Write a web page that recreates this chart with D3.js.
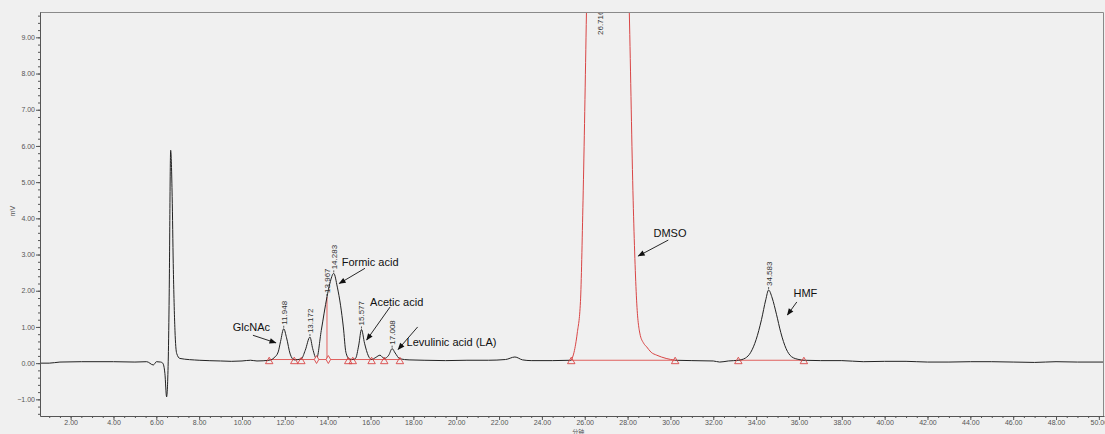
<!DOCTYPE html>
<html>
<head>
<meta charset="utf-8">
<script src="https://cdn.jsdelivr.net/npm/d3@7"></script>
<style>
  html, body { margin: 0; padding: 0; background: #f0f0f0; }
  svg { display: block; font-family: "Liberation Sans", Arial, sans-serif; }
  .axis text { fill: #555; font-size: 7px; }
  .axis path, .axis line { stroke: #555; }
  .peak-label { font-size: 8px; fill: #333; }
  .annot { font-size: 11px; fill: #111; }
</style>
</head>
<body>
<svg id="chart"></svg>
<script>
// ---- data (time in min, signal in mV) ----
const traceBefore = [
  [0.6, 0.0], [1.0, 0.0], [1.5, 0.03], [2.5, 0.04], [4.0, 0.04], [5.0, 0.03],
  [5.55, 0.04], [5.86, -0.05], [6.01, 0.04], [6.2, 0.03], [6.3, 0.0],
  [6.4, -0.28], [6.48, -0.93], [6.56, 0.17], [6.6, 1.83], [6.67, 5.88],
  [6.74, 4.6], [6.79, 2.75], [6.87, 0.91], [6.95, 0.27], [7.1, 0.13],
  [8.0, 0.08], [9.0, 0.06], [9.5, 0.05], [10.0, 0.06], [10.4, 0.08],
  [10.7, 0.06], [11.27, 0.08], [11.5, 0.15], [11.69, 0.31], [11.8, 0.6],
  [11.948, 0.95], [12.08, 0.7], [12.25, 0.25], [12.44, 0.09], [12.77, 0.12],
  [12.95, 0.35], [13.172, 0.72], [13.3, 0.4], [13.48, 0.12], [13.7, 0.9],
  [13.967, 1.83], [14.1, 2.2], [14.283, 2.48], [14.45, 2.1], [14.6, 1.6],
  [14.73, 1.0], [14.85, 0.3], [15.0, 0.12], [15.17, 0.1], [15.3, 0.13],
  [15.45, 0.5], [15.577, 0.93], [15.72, 0.55], [15.9, 0.2], [16.05, 0.1],
  [16.25, 0.16], [16.44, 0.22], [16.64, 0.13], [16.85, 0.22], [17.008, 0.4],
  [17.15, 0.28], [17.37, 0.12], [17.8, 0.09], [18.5, 0.08], [19.5, 0.07],
  [20.5, 0.08], [21.5, 0.08], [22.3, 0.1], [22.74, 0.17], [23.1, 0.09],
  [23.5, 0.07], [24.5, 0.07], [25.37, 0.08]
];

const dmsoTrace = [
  [25.37, 0.08], [25.5, 0.3], [25.65, 0.83], [25.8, 1.7], [25.92, 4.5],
  [26.08, 9.7], [26.25, 16], [26.716, 22], [27.5, 20], [27.9, 14],
  [28.08, 9.7], [28.26, 4.5], [28.42, 1.74], [28.57, 0.83], [28.75, 0.55],
  [28.89, 0.45], [29.1, 0.3], [29.36, 0.22], [29.8, 0.13], [30.22, 0.08]
];

const traceAfter = [
  [30.22, 0.08], [31.0, 0.07], [32.0, 0.06], [32.3, 0.03], [32.7, 0.06],
  [33.17, 0.08], [33.5, 0.14], [33.75, 0.3], [34.0, 0.65], [34.25, 1.2],
  [34.45, 1.75], [34.583, 2.02], [34.75, 1.8], [34.95, 1.35], [35.15, 0.85],
  [35.4, 0.4], [35.65, 0.18], [36.0, 0.1], [36.23, 0.08], [37.0, 0.07],
  [38.0, 0.07], [39.0, 0.04], [40.0, 0.05], [41.0, 0.05], [42.0, 0.03],
  [43.0, 0.03], [44.0, 0.04], [45.0, 0.04], [46.0, 0.03], [47.0, 0.02],
  [48.0, 0.04], [49.0, 0.03], [50.3, 0.03]
];

// retention time labels
const peakTimes = [11.948, 13.172, 13.967, 14.283, 15.577, 17.008, 26.716, 34.583];
const peakHeights = [0.95, 0.72, 1.83, 2.48, 0.93, 0.40, 22, 2.02];

// integration baselines and markers
const baselineSegments = [
  [[11.27, 0.1], [17.37, 0.1]],
  [[25.37, 0.08], [30.22, 0.08]],
  [[33.17, 0.08], [36.23, 0.08]]
];
const dropLine = [[13.967, 0.1], [13.967, 1.83]];
const triangleTimes = [11.27, 12.44, 12.77, 14.96, 15.17, 16.05, 16.64, 17.37, 25.37, 30.22, 33.17, 36.23];
const diamondTimes = [13.48, 14.03];

// compound annotations: text anchor and arrow start/end (data coordinates)
const annotTexts = ['GlcNAc', 'Formic acid', 'Acetic acid', 'Levulinic acid (LA)', 'DMSO', 'HMF'];
const annotTextAt = [[10.44, 1.0], [15.98, 2.79], [17.22, 1.69], [19.78, 0.57], [29.98, 3.58], [36.3, 1.93]];
const annotFrom = [[10.51, 0.77], [15.74, 2.62], [16.91, 1.55], [18.2, 1.0], [29.9, 3.4], [35.9, 1.69]];
const annotTo = [[11.58, 0.56], [14.54, 2.2], [15.82, 0.64], [17.29, 0.38], [28.5, 2.96], [35.46, 1.33]];

// ticks
const xMajorTicks = d3.range(2, 51, 2);
const xMinorTicks = d3.range(1, 50.01, 0.5);
const yMajorTicks = d3.range(-1, 10, 1);
const yMinorTicks = d3.range(-1.4, 9.61, 0.2);

class Chromatogram {
  constructor(_config) {
    this.config = {
      parentElement: _config.parentElement,
      containerWidth: 1105,
      containerHeight: 434,
      margin: { top: 12, right: 1, bottom: 18, left: 40 }
    };
    this.initVis();
  }

  initVis() {
    let vis = this;
    const m = vis.config.margin;
    vis.width = vis.config.containerWidth - m.left - m.right;
    vis.height = vis.config.containerHeight - m.top - m.bottom;

    vis.svg = d3.select(vis.config.parentElement)
      .attr('width', vis.config.containerWidth)
      .attr('height', vis.config.containerHeight);

    vis.chartArea = vis.svg.append('g')
      .attr('transform', `translate(${m.left},${m.top})`);

    vis.svg.append('defs').append('clipPath')
      .attr('id', 'plot-clip')
      .append('rect')
      .attr('width', vis.width)
      .attr('height', vis.height);

    vis.svg.select('defs').append('marker')
      .attr('id', 'arrow-head')
      .attr('viewBox', '0 0 10 10')
      .attr('refX', 9)
      .attr('refY', 5)
      .attr('markerUnits', 'userSpaceOnUse')
      .attr('markerWidth', 8)
      .attr('markerHeight', 7)
      .attr('orient', 'auto')
      .append('path')
      .attr('d', 'M0,1 L10,5 L0,9 Z')
      .attr('fill', '#111');

    vis.xScale = d3.scaleLinear().domain([0.57, 50.24]).range([0, vis.width]);
    vis.yScale = d3.scaleLinear().domain([-1.46, 9.70]).range([vis.height, 0]);

    vis.chart = vis.chartArea.append('g').attr('clip-path', 'url(#plot-clip)');
  }

  renderVis() {
    let vis = this;
    const x = vis.xScale, y = vis.yScale;

    // frame on top and right
    vis.chartArea.append('path')
      .attr('d', `M0,0.5 H${vis.width - 0.5} V${vis.height}`)
      .attr('fill', 'none')
      .attr('stroke', '#8a8a8a');

    // minor ticks
    vis.chartArea.append('g')
      .attr('class', 'axis')
      .attr('transform', `translate(0,${vis.height})`)
      .call(d3.axisBottom(x).tickValues(xMinorTicks).tickSize(2).tickFormat(''))
      .call(g => g.select('.domain').remove());
    vis.chartArea.append('g')
      .attr('class', 'axis')
      .call(d3.axisLeft(y).tickValues(yMinorTicks).tickSize(2).tickFormat(''))
      .call(g => g.select('.domain').remove());

    // major axes
    vis.chartArea.append('g')
      .attr('class', 'axis x-axis')
      .attr('transform', `translate(0,${vis.height})`)
      .call(d3.axisBottom(x).tickValues(xMajorTicks).tickSize(4).tickSizeOuter(0)
        .tickPadding(0).tickFormat(d3.format('.2f')));
    vis.chartArea.append('g')
      .attr('class', 'axis y-axis')
      .call(d3.axisLeft(y).tickValues(yMajorTicks).tickSize(4).tickSizeOuter(0)
        .tickPadding(1).tickFormat(d3.format('.2f')));

    // axis titles
    vis.svg.append('text')
      .attr('transform', `translate(15,${vis.config.margin.top + y(4.2)}) rotate(-90)`)
      .attr('text-anchor', 'middle')
      .style('font-size', '7px')
      .attr('fill', '#555')
      .text('mV');
    vis.svg.append('text')
      .attr('x', vis.config.margin.left + x(25.7))
      .attr('y', 433.5)
      .attr('text-anchor', 'middle')
      .style('font-size', '6px')
      .style('font-family', '"Noto Sans CJK SC", sans-serif')
      .attr('fill', '#555')
      .text('分钟');

    const line = d3.line()
      .x(d => x(d[0]))
      .y(d => y(d[1]))
      .curve(d3.curveMonotoneX);

    // integration baselines
    vis.chart.selectAll('.baseline')
      .data(baselineSegments.concat([dropLine]))
      .join('path')
      .attr('class', 'baseline')
      .attr('d', d3.line().x(d => x(d[0])).y(d => y(d[1])))
      .attr('fill', 'none')
      .attr('stroke', '#e0605e')
      .attr('stroke-width', 1);

    // chromatogram traces
    vis.chart.selectAll('.trace')
      .data([traceBefore, traceAfter])
      .join('path')
      .attr('class', 'trace')
      .attr('d', line)
      .attr('fill', 'none')
      .attr('stroke', '#222')
      .attr('stroke-width', 1);

    vis.chart.append('path')
      .datum(dmsoTrace)
      .attr('d', line)
      .attr('fill', 'none')
      .attr('stroke', '#d94545')
      .attr('stroke-width', 1);

    // baseline markers
    const tri = d3.symbol().type(d3.symbolTriangle).size(24);
    vis.chart.selectAll('.tri')
      .data(triangleTimes)
      .join('path')
      .attr('class', 'tri')
      .attr('d', tri)
      .attr('transform', d => `translate(${x(d)},${y(0.1) + 2})`)
      .attr('fill', 'none')
      .attr('stroke', '#d94545')
      .attr('stroke-width', 0.9);
    const dia = d3.symbol().type(d3.symbolDiamond).size(18);
    vis.chart.selectAll('.dia')
      .data(diamondTimes)
      .join('path')
      .attr('class', 'dia')
      .attr('d', dia)
      .attr('transform', d => `translate(${x(d)},${y(0.1)})`)
      .attr('fill', '#f0f0f0')
      .attr('stroke', '#d94545')
      .attr('stroke-width', 0.9);

    // retention time labels (rotated); off-scale peaks are pinned near the top
    const topY = y(vis.yScale.domain()[1]);
    const onScale = d => d.h <= vis.yScale.domain()[1];
    const labelGroups = vis.chart.selectAll('.peak-label-g')
      .data(peakTimes.map((t, i) => ({ t, h: peakHeights[i] })))
      .join('g')
      .attr('class', 'peak-label-g');
    labelGroups.filter(onScale).append('line')
      .attr('x1', d => x(d.t)).attr('x2', d => x(d.t))
      .attr('y1', d => y(d.h) - 1)
      .attr('y2', d => y(d.h) - 3)
      .attr('stroke', '#333')
      .attr('stroke-width', 0.8);
    labelGroups.append('text')
      .attr('class', 'peak-label')
      .attr('transform', d => {
        const ly = onScale(d) ? y(d.h) - 4 : topY + 23;
        return `translate(${x(d.t) + 3},${ly}) rotate(-90)`;
      })
      .text(d => d3.format('.3f')(d.t));

    // compound annotations
    annotTexts.forEach((txt, i) => {
      vis.chartArea.append('text')
        .attr('class', 'annot')
        .attr('x', x(annotTextAt[i][0]))
        .attr('y', y(annotTextAt[i][1]))
        .attr('dy', '0.35em')
        .attr('text-anchor', 'middle')
        .text(txt);
      vis.chartArea.append('line')
        .attr('x1', x(annotFrom[i][0]))
        .attr('y1', y(annotFrom[i][1]))
        .attr('x2', x(annotTo[i][0]))
        .attr('y2', y(annotTo[i][1]))
        .attr('stroke', '#111')
        .attr('stroke-width', 0.9)
        .attr('marker-end', 'url(#arrow-head)');
    });
  }
}

const chart = new Chromatogram({ parentElement: '#chart' });
chart.renderVis();
</script>
</body>
</html>
